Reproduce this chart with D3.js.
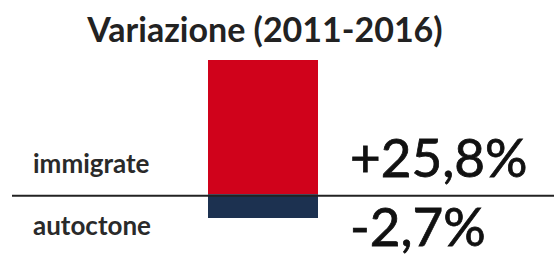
<!DOCTYPE html>
<html>
<head>
<meta charset="utf-8">
<script src="https://cdn.jsdelivr.net/npm/d3@7"></script>
<style>
  body { margin: 0; background: #fff; }
  text { font-family: Lato, "Open Sans", sans-serif; }
</style>
</head>
<body>
<svg id="chart" width="554" height="255"></svg>
<script>
// data
var categories = ["immigrate", "autoctone"];
var values = [25.8, -2.7];
var valueLabels = ["+25,8%", "-2,7%"];
var colors = ["#d0021b", "#1c3150"];
var period = ["2011-2016"];

var svg = d3.select("#chart");

// title
svg.append("text")
  .attr("x", 265)
  .attr("y", 42)
  .attr("text-anchor", "middle")
  .style("font-size", "34px")
  .style("font-weight", 700)
  .style("fill", "#222")
  .text("Variazione (" + period[0] + ")");

// the negative bar is drawn taller than a linear scale would make it,
// a symlog scale gets close to that
var yScale = d3.scaleSymlog().constant(12)
  .domain([d3.min(values), d3.max(values)])
  .range([218, 60]);

var xScale = d3.scaleBand().domain(period).range([208, 318]);

svg.selectAll(".bar")
  .data(values)
  .enter().append("rect")
  .attr("class", "bar")
  .attr("x", xScale(period[0]))
  .attr("width", xScale.bandwidth())
  .attr("y", function(d) { return yScale(Math.max(0, d)); })
  .attr("height", function(d) { return Math.abs(yScale(d) - yScale(0)); })
  .style("fill", function(d, i) { return colors[i]; });

// zero line
svg.append("line")
  .attr("x1", 12).attr("x2", 554)
  .attr("y1", yScale(0) + 1.5).attr("y2", yScale(0) + 1.5)
  .style("stroke", "#222")
  .style("stroke-width", 2);

// category labels
var catY = [173, 235];
svg.selectAll(".cat")
  .data(categories)
  .enter().append("text")
  .attr("class", "cat")
  .attr("x", 33)
  .attr("y", function(d, i) { return catY[i]; })
  .style("font-size", "26px")
  .style("font-weight", 700)
  .style("fill", "#2a2a2a")
  .text(function(d) { return d; });

// value labels (a thin stroke makes them a bit heavier, like the original)
var valY = [177, 246];
svg.selectAll(".val")
  .data(valueLabels)
  .enter().append("text")
  .attr("class", "val")
  .attr("x", 350)
  .attr("y", function(d, i) { return valY[i]; })
  .style("font-size", "53px")
  .style("fill", "#111")
  .style("stroke", "#111")
  .style("stroke-width", 0.8)
  .text(function(d) { return d; });
</script>
</body>
</html>
